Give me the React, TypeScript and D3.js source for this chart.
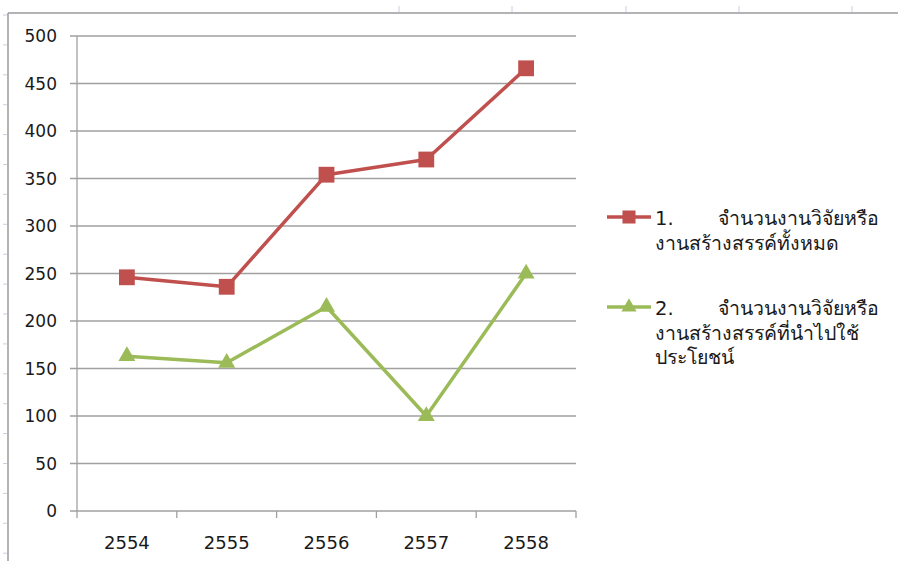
import { useEffect, useRef } from 'react'
import * as d3 from 'd3'

const years = ['2554', '2555', '2556', '2557', '2558']
const totalWorks = [246, 236, 354, 370, 466]
const usedWorks = [163, 156, 215, 100, 250]
const yTicks = [0, 50, 100, 150, 200, 250, 300, 350, 400, 450, 500]

const legendItems = [
  { num: '1.', lines: ['จำนวนงานวิจัยหรือ', 'งานสร้างสรรค์ทั้งหมด'], color: '#C0504D', marker: 'square' },
  { num: '2.', lines: ['จำนวนงานวิจัยหรือ', 'งานสร้างสรรค์ที่นำไปใช้', 'ประโยชน์'], color: '#9BBB59', marker: 'triangle' },
]

export default function App() {
  const svgRef = useRef<SVGSVGElement>(null)

  useEffect(() => {
    if (!svgRef.current) return
    const svg = d3.select(svgRef.current)
    svg.selectAll('*').remove()

    const width = 898
    const height = 561
    const margin = { top: 36, right: 322, bottom: 50, left: 77 }
    const innerWidth = width - margin.left - margin.right
    const innerHeight = height - margin.top - margin.bottom
    const font = "Tahoma, 'DejaVu Sans', sans-serif"

    // spreadsheet frame
    svg.append('line')
      .attr('x1', 8).attr('x2', width).attr('y1', 13).attr('y2', 13)
      .attr('stroke', '#9a9a9a').attr('stroke-width', 1.5)
    svg.append('line')
      .attr('x1', 8).attr('x2', 8).attr('y1', 13).attr('y2', height)
      .attr('stroke', '#9a9a9a').attr('stroke-width', 1.5)
    ;[399, 512, 626, 739, 852].forEach(x => {
      svg.append('line')
        .attr('x1', x).attr('x2', x).attr('y1', 6).attr('y2', 12)
        .attr('stroke', '#c8d0e4').attr('stroke-width', 1)
    })
    d3.range(15, height, 29.9).forEach(y => {
      svg.append('line')
        .attr('x1', 3).attr('x2', 7).attr('y1', y).attr('y2', y)
        .attr('stroke', '#c8d0e4').attr('stroke-width', 1)
    })

    const g = svg.append('g')
      .attr('transform', `translate(${margin.left},${margin.top})`)

    const x = d3.scaleBand().domain(years).range([0, innerWidth])
    const y = d3.scaleLinear().domain([0, 500]).range([innerHeight, 0])

    // gridlines + y ticks
    g.append('g')
      .selectAll('line')
      .data(yTicks)
      .join('line')
      .attr('x1', -7).attr('x2', innerWidth)
      .attr('y1', d => y(d)).attr('y2', d => y(d))
      .attr('stroke', '#a0a0a0').attr('stroke-width', 1.3)

    g.append('g')
      .selectAll('text')
      .data(yTicks)
      .join('text')
      .attr('x', -20)
      .attr('y', d => y(d))
      .attr('dy', '0.36em')
      .attr('text-anchor', 'end')
      .attr('font-family', font)
      .attr('font-size', 17)
      .attr('fill', '#1a1a1a')
      .text(d => d)

    // y axis line
    g.append('line')
      .attr('x1', 0).attr('x2', 0).attr('y1', 0).attr('y2', innerHeight + 7)
      .attr('stroke', '#a0a0a0').attr('stroke-width', 1.3)

    // x category ticks
    const bounds = [...years.map(d => x(d)!), innerWidth]
    g.append('g')
      .selectAll('line')
      .data(bounds.slice(1))
      .join('line')
      .attr('x1', d => d).attr('x2', d => d)
      .attr('y1', innerHeight).attr('y2', innerHeight + 7)
      .attr('stroke', '#a0a0a0').attr('stroke-width', 1.3)

    g.append('g')
      .selectAll('text')
      .data(years)
      .join('text')
      .attr('x', d => x(d)! + x.bandwidth() / 2)
      .attr('y', innerHeight + 38)
      .attr('text-anchor', 'middle')
      .attr('font-family', font)
      .attr('font-size', 18)
      .attr('fill', '#1a1a1a')
      .text(d => d)

    const line = d3.line<number>()
      .x((_, i) => x(years[i])! + x.bandwidth() / 2)
      .y(d => y(d))

    const series = [
      { values: totalWorks, color: '#C0504D', marker: 'square' },
      { values: usedWorks, color: '#9BBB59', marker: 'triangle' },
    ]

    series.forEach(s => {
      g.append('path')
        .datum(s.values)
        .attr('d', line)
        .attr('fill', 'none')
        .attr('stroke', s.color)
        .attr('stroke-width', 3.5)
        .attr('stroke-linejoin', 'round')

      const sym = s.marker === 'square'
        ? d3.symbol().type(d3.symbolSquare).size(250)
        : d3.symbol().type(d3.symbolTriangle).size(125)

      g.append('g')
        .selectAll('path')
        .data(s.values)
        .join('path')
        .attr('d', sym)
        .attr('transform', (d, i) => `translate(${x(years[i])! + x.bandwidth() / 2},${y(d)})`)
        .attr('fill', s.color)
    })

    // legend
    const legendY = [217, 307]
    legendItems.forEach((item, idx) => {
      const ly = legendY[idx]
      const lg = svg.append('g')
      lg.append('line')
        .attr('x1', 607).attr('x2', 651).attr('y1', ly).attr('y2', ly)
        .attr('stroke', item.color).attr('stroke-width', 3.5)
      const sym = item.marker === 'square'
        ? d3.symbol().type(d3.symbolSquare).size(170)
        : d3.symbol().type(d3.symbolTriangle).size(100)
      lg.append('path')
        .attr('d', sym)
        .attr('transform', `translate(629,${ly})`)
        .attr('fill', item.color)
      lg.append('text')
        .attr('x', 655).attr('y', ly + 8)
        .attr('font-family', font).attr('font-size', 19.5).attr('fill', '#1a1a1a')
        .text(item.num)
      item.lines.forEach((t, i) => {
        lg.append('text')
          .attr('x', i === 0 ? 718 : 655)
          .attr('y', ly + 8 + i * 24.5)
          .attr('font-family', font).attr('font-size', 19.5).attr('fill', '#1a1a1a')
          .text(t)
      })
    })
  }, [])

  return (
    <svg
      ref={svgRef}
      width={898}
      height={561}
      style={{ position: 'absolute', left: 0, top: 0, background: '#fff' }}
    />
  )
}
